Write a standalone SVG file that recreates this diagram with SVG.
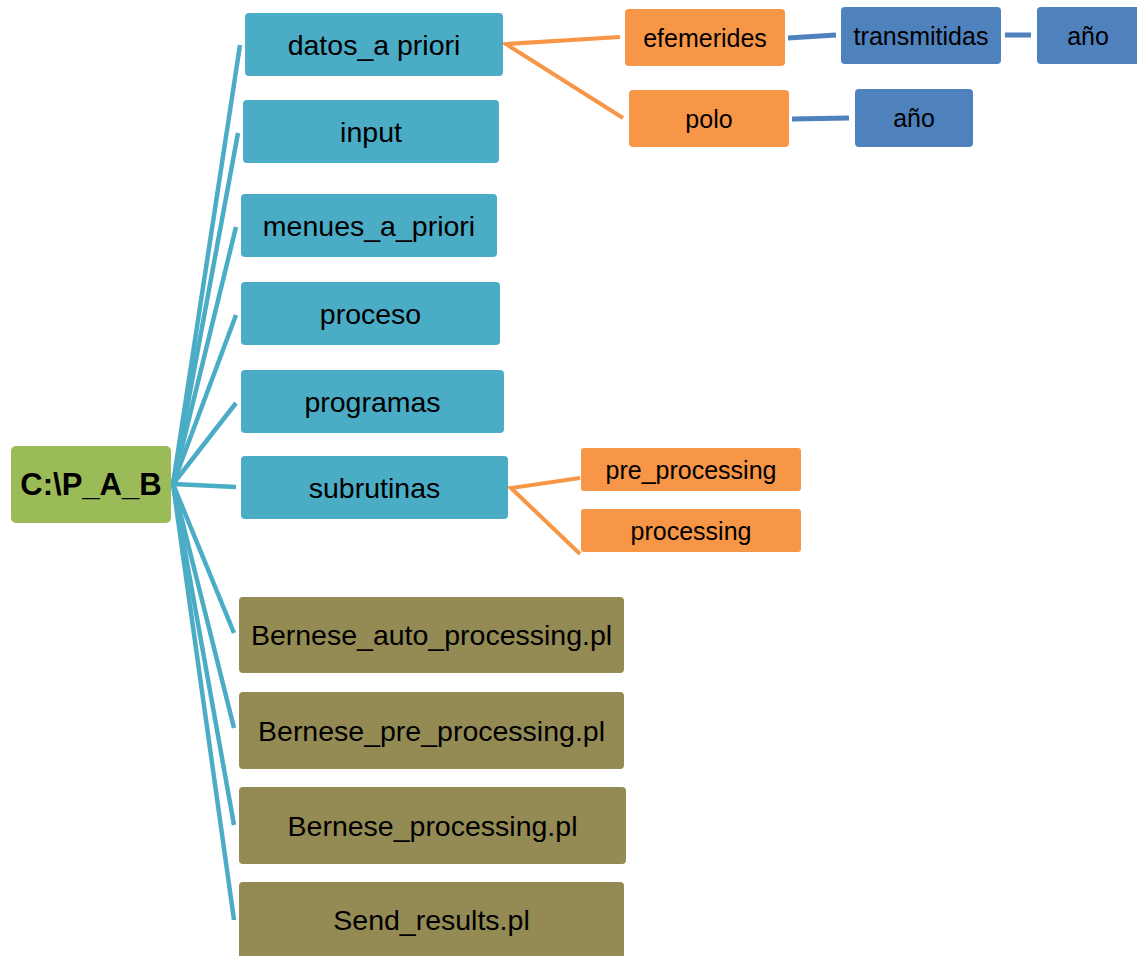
<svg xmlns="http://www.w3.org/2000/svg" width="1137" height="956" viewBox="0 0 1137 956">
<style>
.t{font-family:"Liberation Sans",Arial,sans-serif;fill:#000;text-anchor:middle;dominant-baseline:central}
.big{font-size:28.5px}
.sm{font-size:25px}
.teal{fill:#4BACC6}
.org{fill:#F79646}
.blu{fill:#4F81BD}
.olv{fill:#948A54}
.grn{fill:#9BBB59}
.cl{fill:none;stroke:#4BACC6;stroke-width:4.5}
.co{fill:none;stroke:#F79646;stroke-width:4}
.cb{fill:none;stroke:#4F81BD;stroke-width:5}
</style>
<rect width="1137" height="956" fill="#fff"/>
<g id="connectors">
<path class="cl" d="M173 484 L240 45"/>
<path class="cl" d="M173 484 L238 133"/>
<path class="cl" d="M173 484 L236 227"/>
<path class="cl" d="M173 484 L236 315"/>
<path class="cl" d="M173 484 L236 403"/>
<path class="cl" d="M173 484 L236 487"/>
<path class="cl" d="M173 484 L234 633"/>
<path class="cl" d="M173 484 L234 728"/>
<path class="cl" d="M173 484 L234 825"/>
<path class="cl" d="M173 484 L234 920"/>
<path class="co" d="M620 37 L506 44 L623 118"/>
<path class="co" d="M580 478 L511 488 L580 554"/>
<path class="cb" d="M788 38 L836 35"/>
<path class="cb" d="M1005 35 L1031 35"/>
<path class="cb" d="M792 119 L849 118"/>
</g>
<g id="root"><rect class="grn" x="11" y="446" width="160" height="77" rx="5"/><text class="t" x="91" y="484.5" style="font-size:31px;font-weight:bold">C:\P_A_B</text></g>
<g id="datos"><rect class="teal" x="245" y="13" width="258" height="63" rx="4"/><text class="t big" x="374" y="44.5">datos_a priori</text></g>
<g id="input"><rect class="teal" x="243" y="100" width="256" height="63" rx="4"/><text class="t big" x="371" y="131.5">input</text></g>
<g id="menues"><rect class="teal" x="241" y="194" width="256" height="63" rx="4"/><text class="t big" x="369" y="225.5">menues_a_priori</text></g>
<g id="proceso"><rect class="teal" x="241" y="282" width="259" height="63" rx="4"/><text class="t big" x="370.5" y="313.5">proceso</text></g>
<g id="programas"><rect class="teal" x="241" y="370" width="263" height="63" rx="4"/><text class="t big" x="372.5" y="401.5">programas</text></g>
<g id="subrutinas"><rect class="teal" x="241" y="456" width="267" height="63" rx="4"/><text class="t big" x="374.5" y="487.5">subrutinas</text></g>
<g id="efemerides"><rect class="org" x="625" y="9" width="160" height="57" rx="4"/><text class="t sm" x="705" y="37.5">efemerides</text></g>
<g id="polo"><rect class="org" x="629" y="90" width="160" height="57" rx="4"/><text class="t sm" x="709" y="118.5">polo</text></g>
<g id="transmitidas"><rect class="blu" x="841" y="7" width="160" height="57" rx="4"/><text class="t sm" x="921" y="35.5">transmitidas</text></g>
<g id="anio1"><rect class="blu" x="1037" y="7" width="104" height="57" rx="4"/><text class="t sm" x="1088" y="35.5">año</text></g>
<g id="anio2"><rect class="blu" x="855" y="89" width="118" height="58" rx="4"/><text class="t sm" x="914" y="118">año</text></g>
<g id="pre_processing"><rect class="org" x="581" y="448" width="220" height="43" rx="3"/><text class="t sm" x="691" y="469.5">pre_processing</text></g>
<g id="processing"><rect class="org" x="581" y="509" width="220" height="43" rx="3"/><text class="t sm" x="691" y="530.5">processing</text></g>
<g id="bernese_auto"><rect class="olv" x="239" y="597" width="385" height="76" rx="4"/><text class="t big" x="431.5" y="635">Bernese_auto_processing.pl</text></g>
<g id="bernese_pre"><rect class="olv" x="239" y="692" width="385" height="77" rx="4"/><text class="t big" x="431.5" y="730.5">Bernese_pre_processing.pl</text></g>
<g id="bernese_proc"><rect class="olv" x="239" y="787" width="387" height="77" rx="4"/><text class="t big" x="432.5" y="825.5">Bernese_processing.pl</text></g>
<g id="send_results"><rect class="olv" x="239" y="882" width="385" height="80" rx="4"/><text class="t big" x="431.5" y="920">Send_results.pl</text></g>
</svg>
